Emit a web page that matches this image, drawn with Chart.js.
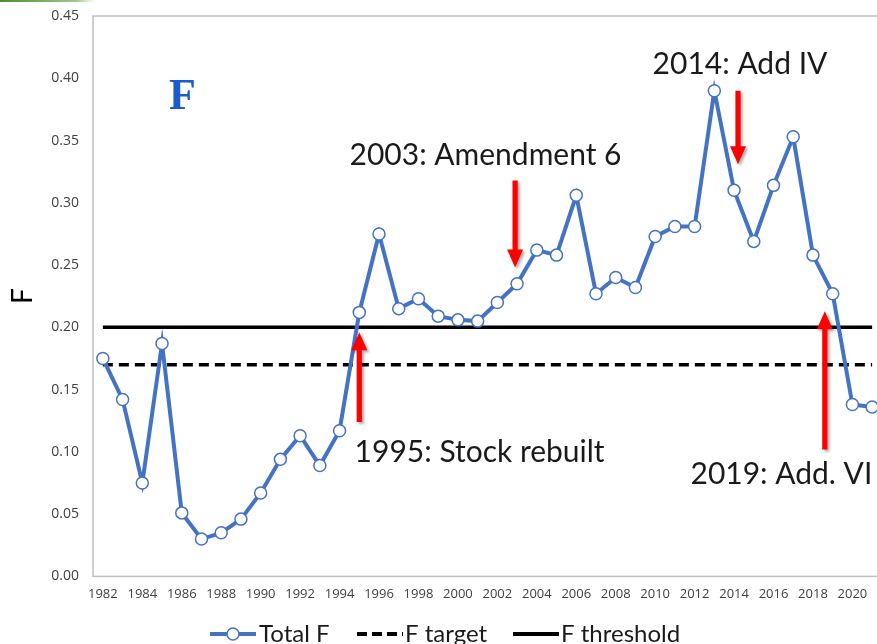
<!DOCTYPE html>
<html>
<head>
<meta charset="utf-8">
<script src="https://cdn.jsdelivr.net/npm/chart.js@4"></script>
<style>
  html, body { margin: 0; padding: 0; background: #fff; overflow: hidden; }
  #wrap { position: relative; width: 890px; height: 644px; }
  #topbar { position: absolute; left: 0; top: 0; width: 95px; height: 2px;
            background: linear-gradient(to right, #4e8a3a, #9cc98a 80%, rgba(255,255,255,0)); }
</style>
</head>
<body>
<div id="wrap">
  <canvas id="fChart" width="890" height="644"></canvas>
  <div id="topbar"></div>
</div>
<script>
const years = [1982, 1983, 1984, 1985, 1986, 1987, 1988, 1989, 1990, 1991,
               1992, 1993, 1994, 1995, 1996, 1997, 1998, 1999, 2000, 2001,
               2002, 2003, 2004, 2005, 2006, 2007, 2008, 2009, 2010, 2011,
               2012, 2013, 2014, 2015, 2016, 2017, 2018, 2019, 2020, 2021];
const totalF = [0.175, 0.142, 0.075, 0.187, 0.051, 0.030, 0.035, 0.046, 0.067, 0.094,
                0.113, 0.089, 0.117, 0.212, 0.275, 0.215, 0.223, 0.209, 0.206, 0.205,
                0.220, 0.235, 0.262, 0.258, 0.306, 0.227, 0.240, 0.232, 0.273, 0.281,
                0.281, 0.390, 0.310, 0.269, 0.314, 0.353, 0.258, 0.227, 0.138, 0.136];
const fTarget = 0.17;
const fThreshold = 0.20;
const yTicks = [0, 0.05, 0.10, 0.15, 0.20, 0.25, 0.30, 0.35, 0.40, 0.45];

// arrows: year position, tail value, head value
const arrows = [
    { year: 1995.0, from: 0.124, to: 0.196 },
    { year: 2002.9, from: 0.318, to: 0.248 },
    { year: 2014.2, from: 0.390, to: 0.331 },
    { year: 2018.6, from: 0.102, to: 0.213 }
];
const notes = [
    { text: '1995: Stock rebuilt', year: 2001.1, value: 0.100 },
    { text: '2003: Amendment 6', year: 2001.4, value: 0.338 },
    { text: '2014: Add IV', year: 2014.3, value: 0.411 },
    { text: '2019: Add. VI', year: 2016.4, value: 0.082 }
];

const textFont = 'Lato, "Open Sans", sans-serif';
const tickFont = '"Open Sans", sans-serif';
const blue = '#4472C4';

const decorPlugin = {
    id: 'decor',
    afterDraw(chart) {
        const { ctx, chartArea: a, scales: { x, y } } = chart;
        const xPix = yr => x.getPixelForValue(yr - years[0]);

        ctx.save();
        // plot frame
        ctx.strokeStyle = '#bfbfbf';
        ctx.lineWidth = 1.5;
        ctx.strokeRect(a.left, a.top, a.right - a.left, a.bottom - a.top);

        // arrows
        ctx.fillStyle = '#ff0000';
        ctx.shadowColor = 'rgba(0,0,0,0.35)';
        ctx.shadowBlur = 3;
        ctx.shadowOffsetX = 2;
        ctx.shadowOffsetY = 2;
        arrows.forEach(ar => {
            const px = xPix(ar.year);
            const y0 = y.getPixelForValue(ar.from);
            const y1 = y.getPixelForValue(ar.to);
            const dir = y1 < y0 ? -1 : 1;
            const headLen = 18, headW = 8, shaft = 2.6;
            ctx.beginPath();
            ctx.moveTo(px - shaft, y0);
            ctx.lineTo(px - shaft, y1 - dir * headLen);
            ctx.lineTo(px - headW, y1 - dir * headLen);
            ctx.lineTo(px, y1);
            ctx.lineTo(px + headW, y1 - dir * headLen);
            ctx.lineTo(px + shaft, y1 - dir * headLen);
            ctx.lineTo(px + shaft, y0);
            ctx.closePath();
            ctx.fill();
        });
        ctx.shadowColor = 'transparent';

        // annotation texts
        ctx.fillStyle = '#1a1a1a';
        ctx.font = '30px ' + textFont;
        ctx.textAlign = 'center';
        ctx.textBaseline = 'middle';
        notes.forEach(n => {
            ctx.fillText(n.text, xPix(n.year), y.getPixelForValue(n.value));
        });

        // panel letter
        ctx.fillStyle = '#1a5ccc';
        ctx.font = 'bold 44px "Liberation Serif", "DejaVu Serif", serif';
        ctx.textAlign = 'left';
        ctx.fillText('F', a.left + 76, a.top + 82);

        // legend
        const ly = 634;
        ctx.font = '24px ' + textFont;
        ctx.textAlign = 'left';
        ctx.fillStyle = '#1a1a1a';
        // Total F
        ctx.strokeStyle = blue;
        ctx.lineWidth = 4;
        ctx.beginPath(); ctx.moveTo(210, ly); ctx.lineTo(256, ly); ctx.stroke();
        ctx.beginPath(); ctx.arc(233, ly, 6, 0, Math.PI * 2);
        ctx.fillStyle = '#fff'; ctx.fill();
        ctx.lineWidth = 1.5; ctx.stroke();
        ctx.fillStyle = '#1a1a1a';
        ctx.fillText('Total F', 259, ly);
        // F target
        ctx.strokeStyle = '#000';
        ctx.lineWidth = 4;
        ctx.setLineDash([10, 5]);
        ctx.beginPath(); ctx.moveTo(357, ly); ctx.lineTo(403, ly); ctx.stroke();
        ctx.setLineDash([]);
        ctx.fillText('F target', 405, ly);
        // F threshold
        ctx.beginPath(); ctx.moveTo(513, ly); ctx.lineTo(559, ly); ctx.stroke();
        ctx.fillText('F threshold', 561, ly);
        ctx.restore();
    }
};

new Chart(document.getElementById('fChart').getContext('2d'), {
    type: 'line',
    data: {
        labels: years,
        datasets: [
            {
                label: 'F threshold',
                data: years.map(() => fThreshold),
                borderColor: '#000',
                borderWidth: 3.5,
                pointRadius: 0,
                order: 3
            },
            {
                label: 'F target',
                data: years.map(() => fTarget),
                borderColor: '#000',
                borderWidth: 3.5,
                borderDash: [10, 6],
                pointRadius: 0,
                order: 2
            },
            {
                label: 'Total F',
                data: totalF,
                borderColor: blue,
                borderWidth: 4,
                pointBackgroundColor: '#fff',
                pointBorderColor: blue,
                pointBorderWidth: 1.5,
                pointRadius: 6,
                tension: 0,
                order: 1
            }
        ]
    },
    options: {
        responsive: false,
        animation: false,
        layout: { padding: { left: 0, right: 8, top: 16, bottom: 32 } },
        plugins: {
            legend: { display: false },
            tooltip: { enabled: false }
        },
        scales: {
            x: {
                offset: true,
                grid: { display: false, drawTicks: false },
                border: { display: false },
                ticks: {
                    autoSkip: false,
                    maxRotation: 0,
                    color: '#404040',
                    font: { family: tickFont, size: 13 },
                    padding: 10,
                    callback: (v, i) => (i % 2 === 0 ? years[i] : '')
                }
            },
            y: {
                min: 0,
                max: 0.45,
                afterBuildTicks: axis => { axis.ticks = yTicks.map(v => ({ value: v })); },
                afterFit: axis => {
                    axis.width = 93;
                    axis.paddingTop = 0;
                    axis.paddingBottom = 0;
                },
                grid: { display: false, drawTicks: false },
                border: { display: false },
                title: {
                    display: true,
                    text: 'F',
                    color: '#000',
                    font: { family: textFont, size: 28 },
                    padding: { top: 6, bottom: 0 }
                },
                ticks: {
                    color: '#404040',
                    font: { family: tickFont, size: 14 },
                    padding: 14,
                    callback: v => v.toFixed(2)
                }
            }
        }
    },
    plugins: [decorPlugin]
});
</script>
</body>
</html>
